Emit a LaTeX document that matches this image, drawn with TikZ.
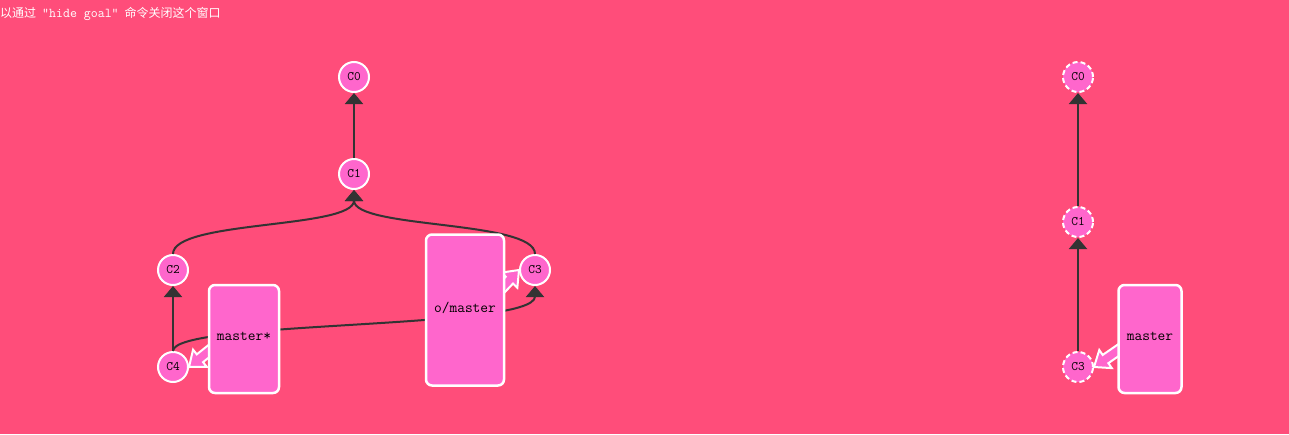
\documentclass[tikz,border=0pt]{standalone}
\usepackage{fontspec}
\newfontfamily\cjk{Noto Sans CJK SC}
\usetikzlibrary{arrows.meta,calc}
\definecolor{bgpink}{HTML}{FF4D7A}
\definecolor{commitpink}{HTML}{FF66CC}
\definecolor{edgegray}{HTML}{333333}
\tikzset{
  commit/.style={circle,draw=white,line width=2pt,fill=commitpink,minimum size=30pt,inner sep=0pt,font=\ttfamily\fontsize{13}{15}\selectfont},
  goalcommit/.style={commit,dash pattern=on 5pt off 3pt},
  branchbox/.style={draw=white,line width=2.5pt,fill=commitpink,rounded corners=6pt,inner sep=0pt,font=\ttfamily\fontsize{15}{17}\selectfont},
  parent/.style={draw=edgegray,line width=2pt,-{Triangle[width=18pt,length=11pt]}},
  ptr/.style={draw=white,fill=commitpink,line width=2pt,line join=miter}
}
\newcommand{\branchptr}[2]{%
  \coordinate (h) at ($(#2)!14pt!(#1)$);
  \filldraw[ptr] ($(#1)!5pt!90:(#2)$) -- ($(h)!5pt!90:(#2)$) -- ($(h)!11pt!90:(#2)$)
    -- (#2) -- ($(h)!11pt!-90:(#2)$) -- ($(h)!5pt!-90:(#2)$) -- ($(#1)!5pt!-90:(#2)$) -- cycle;}
\begin{document}
\begin{tikzpicture}[x=1pt,y=-1pt]
  \fill[bgpink] (0,0) rectangle (1289,434);
  \useasboundingbox (0,0) rectangle (1289,434);
  \node[anchor=west,text=white,inner sep=0pt,font=\fontsize{12}{14}\selectfont] (hint) at (0,14)
    {\cjk 以通过\hspace{6pt}{\ttfamily\fontsize{13.5}{14}\selectfont"hide goal"}\hspace{6pt}命令关闭这个窗口};
  % current tree
  \draw
    (354,77) node[commit] (c0){C0}
    (354,174) node[commit] (c1){C1}
    (173,270) node[commit] (c2){C2}
    (535,270) node[commit] (c3){C3}
    (173,367) node[commit] (c4){C4};
  \begin{scope}[parent]
    \draw (c1) -- (c0);
    \draw (c2) .. controls +(0,-50) and +(0,55) .. (c1);
    \draw (c3) .. controls +(0,-50) and +(0,55) .. (c1);
    \draw (c4) -- (c2);
    \draw (c4) .. controls +(0,-47) and +(0,60) .. (c3);
  \end{scope}
  \coordinate (mstart) at (214,347);
  \coordinate (ostart) at (500,290);
  \branchptr{mstart}{c4.east}
  \branchptr{ostart}{c3.west}
  \node[branchbox,minimum width=70pt,minimum height=108pt] (master) at (244,339) {\raisebox{5pt}{master*}};
  \node[branchbox,minimum width=78pt,minimum height=151pt] (omaster) at (465,310) {\raisebox{5pt}{o/master}};
  % goal tree
  \draw
    (1078,77) node[goalcommit] (g0){C0}
    (1078,222) node[goalcommit] (g1){C1}
    (1078,367) node[goalcommit] (g3){C3};
  \begin{scope}[parent]
    \draw (g1) -- (g0);
    \draw (g3) -- (g1);
  \end{scope}
  \coordinate (gstart) at (1123,347);
  \branchptr{gstart}{g3.east}
  \node[branchbox,minimum width=63pt,minimum height=108pt] (gmaster) at (1150,339) {\raisebox{5pt}{master}};
\end{tikzpicture}
\end{document}
